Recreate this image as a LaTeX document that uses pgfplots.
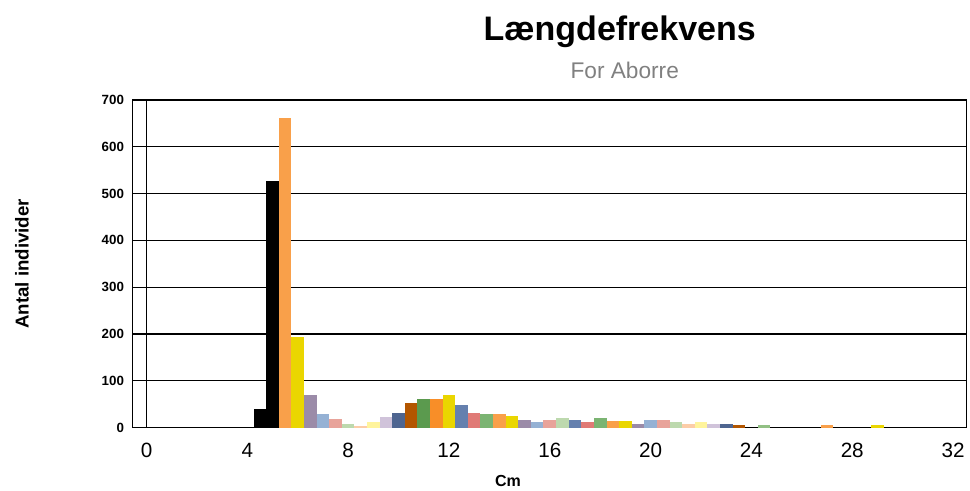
\documentclass[border=0pt]{standalone}
\usepackage{fontspec}
\setmainfont{Liberation Sans}
\usepackage{pgfplots}
\pgfplotsset{compat=1.18}
\definecolor{orangeA}{HTML}{F9A04A}
\definecolor{yellowA}{HTML}{EAD600}
\definecolor{purpleA}{HTML}{9B8BA8}
\definecolor{lblue}{HTML}{95B1D4}
\definecolor{pinkA}{HTML}{E8A39A}
\definecolor{lgreen}{HTML}{BDD9AE}
\definecolor{peach}{HTML}{FCCDA8}
\definecolor{lyellow}{HTML}{FFF49C}
\definecolor{lilac}{HTML}{D0C3DA}
\definecolor{slateA}{HTML}{4E6590}
\definecolor{brownA}{HTML}{B35600}
\definecolor{greenA}{HTML}{5B9A4E}
\definecolor{orangeB}{HTML}{F88E28}
\definecolor{slateB}{HTML}{6580AE}
\definecolor{coral}{HTML}{E07A76}
\definecolor{greenB}{HTML}{7BB472}
\definecolor{greenC}{HTML}{92C084}
\newcommand{\fbar}[3]{\addplot[ybar, bar width=0.5, bar shift=0pt, fill=#1, draw=none] coordinates {(#2,#3)};}
\begin{document}
\begin{tikzpicture}
\useasboundingbox (0,0) rectangle (727.5pt,368.25pt);
\begin{axis}[
  at={(99.5pt,47.6pt)}, anchor=south west,
  scale only axis, width=625.5pt, height=245.6pt,
  xmin=-0.55, xmax=32.54, ymin=0, ymax=700,
  xtick={0,4,...,32}, ytick={0,100,...,700},
  major tick length=0pt,
  axis line style={black, line width=1pt},
  ymajorgrids, grid style={black, line width=0.9pt},
  extra x ticks={0}, extra x tick labels={},
  extra x tick style={xmajorgrids=true, major grid style={black, line width=0.9pt}},
  /pgf/number format/assume math mode=true,
  xticklabel style={font=\fontsize{15.5}{17}\selectfont, yshift=-8pt},
  yticklabel style={font=\bfseries\fontsize{10}{11}\selectfont, xshift=-3pt},
  title={\bfseries\fontsize{25.5}{29}\selectfont Længdefrekvens},
  title style={at={(rel axis cs:0.584,1)}, anchor=center, yshift=45pt},
  clip=false,
]
\fbar{black}{4.5}{40}
\fbar{black}{5.0}{527}
\fbar{orangeA}{5.5}{662}
\fbar{yellowA}{6.0}{193}
\fbar{purpleA}{6.5}{70}
\fbar{lblue}{7.0}{28}
\fbar{pinkA}{7.5}{19}
\fbar{lgreen}{8.0}{7}
\fbar{peach}{8.5}{3}
\fbar{lyellow}{9.0}{11}
\fbar{lilac}{9.5}{23}
\fbar{slateA}{10.0}{32}
\fbar{brownA}{10.5}{53}
\fbar{greenA}{11.0}{60}
\fbar{orangeB}{11.5}{60}
\fbar{yellowA}{12.0}{69}
\fbar{slateB}{12.5}{49}
\fbar{coral}{13.0}{32}
\fbar{greenB}{13.5}{28}
\fbar{orangeA}{14.0}{28}
\fbar{yellowA}{14.5}{24}
\fbar{purpleA}{15.0}{17}
\fbar{lblue}{15.5}{12}
\fbar{pinkA}{16.0}{17}
\fbar{lgreen}{16.5}{21}
\fbar{slateB}{17.0}{17}
\fbar{coral}{17.5}{12}
\fbar{greenB}{18.0}{21}
\fbar{orangeA}{18.5}{15}
\fbar{yellowA}{19.0}{15}
\fbar{purpleA}{19.5}{8}
\fbar{lblue}{20.0}{16}
\fbar{pinkA}{20.5}{16}
\fbar{lgreen}{21.0}{12}
\fbar{peach}{21.5}{8}
\fbar{lyellow}{22.0}{12}
\fbar{lilac}{22.5}{8}
\fbar{slateA}{23.0}{7}
\fbar{brownA}{23.5}{6}
\fbar{greenC}{24.5}{5}
\fbar{orangeA}{27.0}{5}
\fbar{yellowA}{29.0}{5}
\node[font=\fontsize{17}{20}\selectfont, text=black!50] at ([yshift=22.5pt]rel axis cs:0.59,1) {For Aborre};
\node[font=\bfseries\fontsize{12}{14}\selectfont, inner sep=1pt] at ([yshift=-40pt]rel axis cs:0.45,0) {Cm};
\node[font=\bfseries\fontsize{14}{16}\selectfont, rotate=90] at ([xshift=-83pt]rel axis cs:0,0.5) {Antal individer};
\end{axis}
\end{tikzpicture}
\end{document}
